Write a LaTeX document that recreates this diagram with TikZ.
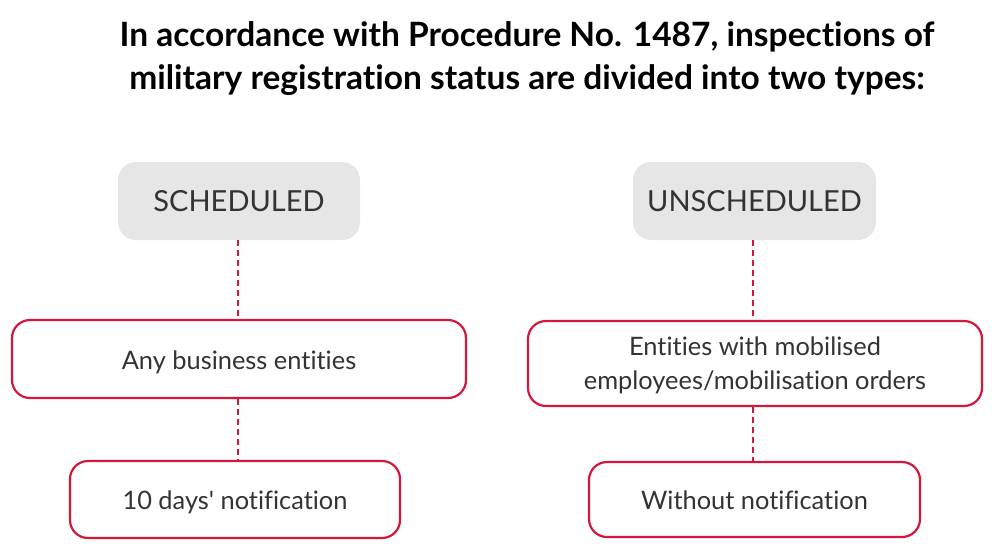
\documentclass[tikz,border=0pt]{standalone}
\usepackage{fontspec}
\newfontfamily\lato{Lato}[Ligatures=NoCommon]
\definecolor{redline}{HTML}{D2183C}
\definecolor{graybox}{HTML}{E6E6E6}
\definecolor{txt}{HTML}{333333}
\begin{document}
\begin{tikzpicture}[x=1pt,y=-1pt,
  headbox/.style={fill=graybox, rounded corners=18pt, inner sep=0pt, text=txt, font=\lato\fontsize{29}{34}\selectfont},
  itembox/.style={draw=redline, line width=2.2pt, rounded corners=18pt, inner sep=0pt, fill=white, text=txt, align=center, font=\lato\fontsize{25.4}{34}\selectfont},
  oneline/.style={text height=25pt, text depth=5pt},
  twoline/.style={text height=56.5pt, text depth=5.5pt},
  link/.style={draw=redline, line width=1.6pt, dash pattern=on 6pt off 4pt}]
\useasboundingbox (0,0) rectangle (1000,558);
\node[font=\lato\bfseries\fontsize{33.5}{43}\selectfont, align=center, text=black] (title) at (527,59)
  {In accordance with Procedure No. 1487, inspections of\\military registration status are divided into two types:};
\node[headbox, minimum width=242pt, minimum height=78pt] (sch) at (239,201) {SCHEDULED};
\node[headbox, minimum width=243pt, minimum height=78pt] (unsch) at (754.5,201) {UNSCHEDULED};
\node[itembox, oneline, minimum width=454pt, minimum height=78pt] (any) at (239,359) {Any business entities};
\node[itembox, twoline, minimum width=454pt, minimum height=85pt] (ent) at (755,363.5) {Entities with mobilised\\employees/mobilisation orders};
\node[itembox, oneline, minimum width=330pt, minimum height=77pt] (ten) at (235,499.5) {10 days' notification};
\node[itembox, oneline, minimum width=331pt, minimum height=75pt] (without) at (754.5,499.5) {Without notification};
\draw[link] (sch.south -| 238,0) -- (any.north -| 238,0);
\draw[link] (any.south -| 238,0) -- (ten.north -| 238,0);
\draw[link] (unsch.south -| 753,0) -- (ent.north -| 753,0);
\draw[link] (ent.south -| 753,0) -- (without.north -| 753,0);
\end{tikzpicture}
\end{document}
